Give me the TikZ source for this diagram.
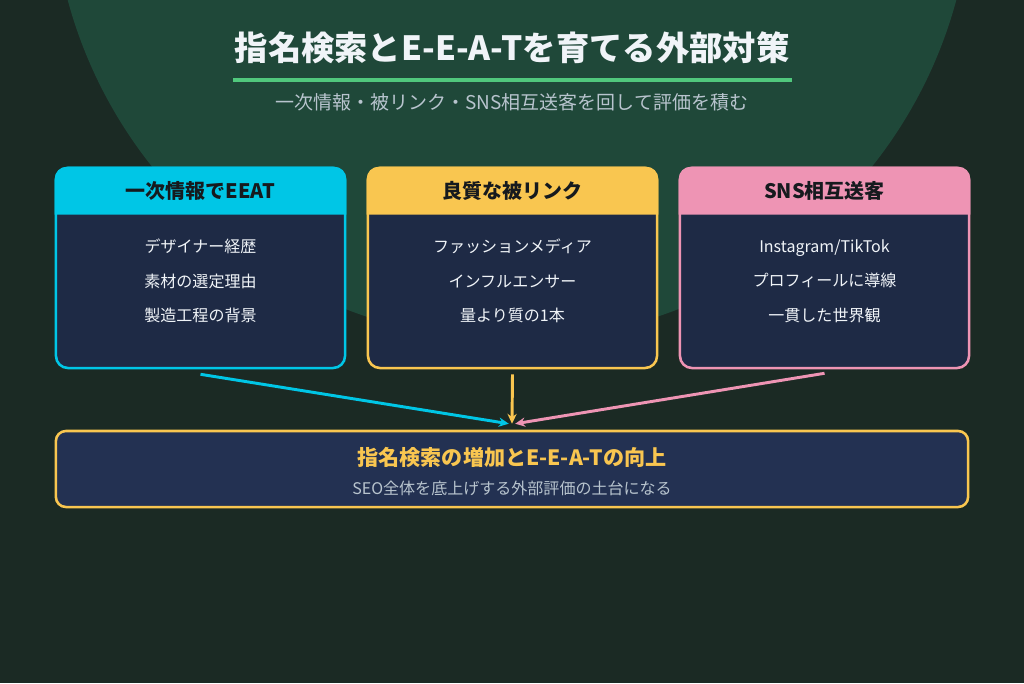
\documentclass[tikz,border=0pt]{standalone}
\usepackage{fontspec}
\setmainfont{Noto Sans CJK JP}
\usetikzlibrary{arrows.meta, positioning, calc}
\definecolor{fondoOscuro}{RGB}{27, 42, 36}
\definecolor{verdeCirculo}{RGB}{31, 72, 57}
\definecolor{azulMarino}{RGB}{30, 42, 69}
\definecolor{azulBase}{RGB}{35, 49, 82}
\definecolor{cianEEAT}{RGB}{0, 198, 230}
\definecolor{amarilloLink}{RGB}{249, 198, 80}
\definecolor{rosaSNS}{RGB}{238, 148, 180}
\definecolor{verdeLinea}{RGB}{80, 200, 125}
\definecolor{grisTexto}{RGB}{184, 196, 206}
\definecolor{blancoTexto}{RGB}{240, 244, 248}
\definecolor{negroTexto}{RGB}{22, 26, 30}

\begin{document}
\begin{tikzpicture}[x=0.025cm, y=-0.025cm,
            caja/.style={rectangle, rounded corners=0.3cm, draw=#1, fill=azulMarino, line width=1.8pt, minimum width=7.225cm, minimum height=5cm},
            base/.style={rectangle, rounded corners=0.25cm, draw=amarilloLink, fill=azulBase, line width=1.8pt, minimum width=22.8cm, minimum height=1.9cm},
            cabeza/.style={text=negroTexto, font=\fontsize{14.2}{16}\selectfont\bfseries},
            lista/.style={align=center, text=blancoTexto, font=\fontsize{11.4}{24.6}\selectfont},
            flecha/.style={-{Stealth[length=7pt, width=6.5pt]}, line width=2.1pt, #1}]

            % fondo y circulo
            \useasboundingbox (0,0) rectangle (1024,683);
            \fill[fondoOscuro] (0,0) rectangle (1024,683);
            \begin{scope}
                \clip (0,0) rectangle (1024,683);
                \fill[verdeCirculo] (512,-120) circle (11.5cm);
            \end{scope}

            % titulo
            \node[text=blancoTexto, font=\fontsize{23.7}{26}\selectfont\bfseries] (titulo) at (512,48) {指名検索とE-E-A-Tを育てる外部対策};
            \draw[verdeLinea, line width=2.85pt] (233,80) -- (792,80);
            \node[text=grisTexto, font=\fontsize{13.5}{16}\selectfont] (subtitulo) at (512,102) {一次情報・被リンク・SNS相互送客を回して評価を積む};

            % tres cajas
            \node[caja=cianEEAT] (eeat) at (200.5,268) {};
            \node[caja=amarilloLink] (link) at (512.5,268) {};
            \node[caja=rosaSNS] (sns) at (824.5,268) {};

            \foreach \n/\c in {eeat/cianEEAT, link/amarilloLink, sns/rosaSNS}
                \fill[\c] ([yshift=-1.2cm]\n.north west) [rounded corners=0.3cm] -- (\n.north west) -- (\n.north east) [sharp corners] -- ([yshift=-1.2cm]\n.north east) -- cycle;

            \node[cabeza] at ([yshift=-0.6cm]eeat.north) {一次情報でEEAT};
            \node[cabeza] at ([yshift=-0.6cm]link.north) {良質な被リンク};
            \node[cabeza] at ([yshift=-0.6cm]sns.north) {SNS相互送客};

            \node[lista] (eeatTxt) at ([yshift=-0.33cm]eeat.center) {デザイナー経歴\\素材の選定理由\\製造工程の背景};
            \node[lista] (linkTxt) at ([yshift=-0.33cm]link.center) {ファッションメディア\\インフルエンサー\\量より質の1本};
            \node[lista] (snsTxt) at ([yshift=-0.33cm]sns.center) {Instagram/TikTok\\プロフィールに導線\\一貫した世界観};

            % resultado
            \node[base] (meta) at (512,469) {};
            \node[text=amarilloLink, font=\fontsize{15}{18}\selectfont\bfseries] (metaTit) at (512,457) {指名検索の増加とE-E-A-Tの向上};
            \node[text=grisTexto, font=\fontsize{11.4}{14}\selectfont] (metaSub) at (512,488) {SEO全体を底上げする外部評価の土台になる};

            \coordinate (llegada) at ([yshift=0.15cm]meta.north);
            \draw[flecha=cianEEAT] ([yshift=-0.125cm]eeat.south) -- ([xshift=-0.08cm]llegada);
            \draw[flecha=amarilloLink] ([yshift=-0.125cm]link.south) -- (llegada);
            \draw[flecha=rosaSNS] ([yshift=-0.1cm]sns.south) -- ([xshift=0.08cm]llegada);
        \end{tikzpicture}
\end{document}
